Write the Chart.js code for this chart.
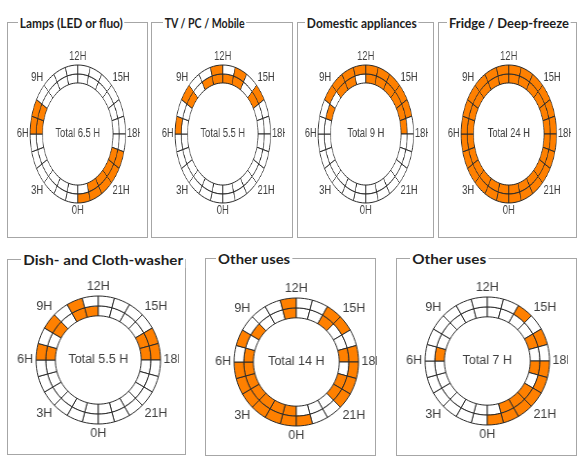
<!DOCTYPE html>
<html><head><meta charset="utf-8">
<script src="https://cdn.jsdelivr.net/npm/chart.js@4.4.1/dist/chart.umd.min.js"></script>
<style>
html,body{margin:0;padding:0;background:#fff;}
body{width:577px;height:462px;position:relative;overflow:hidden;font-family:'Liberation Sans',Arial,sans-serif;}
.box{position:absolute;border:1px solid #a6a6a6;box-sizing:border-box;}
.ttl{position:absolute;background:#fff;font-family:Lato,'Open Sans',sans-serif;font-weight:700;color:#1e1e1e;white-space:nowrap;line-height:16px;transform-origin:0 50%;padding:0 2px;}
canvas{position:absolute;}
</style></head><body>
<script>
// ---- data ----
// one slot per hour, ring 1 (outer) = first half hour, ring 2 (inner) = second half hour
const slotLabels = ['0H','1H','2H','3H','4H','5H','6H','7H','8H','9H','10H','11H','12H','13H','14H','15H','16H','17H','18H','19H','20H','21H','22H','23H'];
const slotWeight = [1,1,1,1,1,1,1,1,1,1,1,1,1,1,1,1,1,1,1,1,1,1,1,1];
const tickHours = [0,3,6,9,12,15,18,21];
const tickLabels = ['0H','3H','6H','9H','12H','15H','18H','21H'];
const titles = ['Lamps (LED or fluo)','TV / PC / Mobile','Domestic appliances','Fridge / Deep-freeze','Dish- and Cloth-washer','Other uses','Other uses'];

//                   0 1 2 3 4 5 6 7 8 9 10  12  14  16  18  20  22
const lampsOuter  = [0,0,0,0,0,0,1,1,0,0,0,0,0,0,0,0,0,0,0,1,1,1,1,1];
const lampsInner  = [0,0,0,0,0,0,1,1,0,0,0,0,0,0,0,0,0,0,0,1,1,1,1,0];
const tvOuter     = [0,0,0,0,0,0,1,0,1,0,0,1,0,1,0,1,0,0,0,0,0,0,0,0];
const tvInner     = [0,0,0,0,0,0,0,0,1,0,1,1,1,1,0,1,0,0,0,0,0,0,0,0];
const applOuter   = [0,0,0,0,0,0,0,0,1,1,1,1,1,1,1,1,1,0,0,0,0,0,0,0];
const applInner   = [0,0,0,0,0,0,0,1,0,1,1,0,1,1,1,1,1,1,0,0,0,0,0,0];
const fridgeOuter = [1,1,1,1,1,1,1,1,1,1,1,1,1,1,1,1,1,1,1,1,1,1,1,1];
const fridgeInner = [1,1,1,1,1,1,1,1,1,1,1,1,1,1,1,1,1,1,1,1,1,1,1,1];
const washOuter   = [0,0,0,0,0,0,1,0,1,0,1,0,0,0,0,0,1,1,0,0,0,0,0,0];
const washInner   = [0,0,0,0,0,0,1,0,1,0,1,1,0,0,0,0,1,1,0,0,0,0,0,0];
const other1Outer = [1,1,1,1,1,1,0,1,0,0,0,1,0,0,1,1,0,1,1,1,1,0,0,1];
const other1Inner = [1,1,1,1,1,1,1,0,1,0,0,1,0,0,1,0,0,1,0,1,1,0,0,0];
const other2Outer = [0,0,0,0,0,0,0,0,0,0,0,0,0,0,1,0,1,0,1,1,1,1,1,1];
const other2Inner = [0,0,0,0,0,0,1,0,0,0,0,0,0,0,0,0,1,0,1,0,1,1,1,0];

const rings = [
  [lampsOuter, lampsInner], [tvOuter, tvInner], [applOuter, applInner], [fridgeOuter, fridgeInner],
  [washOuter, washInner], [other1Outer, other1Inner], [other2Outer, other2Inner]
];

// ---- layout ----
const ON = '#ff8000', OFF = '#ffffff', EDGE = '#2a2a2a', TXT = '#404040';
// half: visible half-width (native px) right of centre; extra: additional room on the left
const TOP = {R:69, cut:74, sx:0.69, half:90, extra:24, H:190, font:'12px "Liberation Sans", Arial, sans-serif', k:1.13, pad:2, tfont:13};
const BOT = {R:64, cut:69, sx:0.97, half:83, extra:14, H:180, font:'12.5px "Liberation Sans", Arial, sans-serif', k:1.03, pad:3, tfont:14};
const layout = [
  {box:[7,22,147,237],  tx:20,  tw:103, cx:77.5,  cy:134, g:TOP},
  {box:[151,22,292,237],tx:165, tw:80,  cx:223,   cy:134, g:TOP},
  {box:[297,22,433,237],tx:307, tw:110, cx:366,   cy:134, g:TOP},
  {box:[438,22,576,237],tx:449, tw:120, cx:508.5, cy:134, g:TOP},
  {box:[7,259,185,454], tx:23,  tw:160, cx:98,    cy:360, g:BOT},
  {box:[205,258,375,455],tx:218,tw:72,  cx:296.5, cy:362, g:BOT},
  {box:[396,258,576,455],tx:412,tw:74,  cx:487.5, cy:361, g:BOT}
];

const ringLabels = {
  id:'ringLabels',
  afterDraw(chart, args, o){
    const ctx = chart.ctx;
    const arc = chart.getDatasetMeta(0).data[0];
    const cx = arc.x, cy = arc.y, R = arc.outerRadius;
    ctx.save();
    ctx.font = o.font;
    ctx.fillStyle = o.color;
    const put = (txt, x, y, al, bl) => {
      ctx.save(); ctx.translate(x, y); ctx.scale(o.k, 1);
      ctx.textAlign = al; ctx.textBaseline = bl; ctx.fillText(txt, 0, 0); ctx.restore();
    };
    tickHours.forEach((h, i) => {
      const a = Math.PI/2 + h*Math.PI/12;
      const c = Math.cos(a), s = Math.sin(a);
      const x = cx + (R + o.pad)*c, y = cy + (R + o.pad)*s;
      put(tickLabels[i], x, y, c > 0.3 ? 'left' : (c < -0.3 ? 'right' : 'center'),
          s > 0.3 ? 'top' : (s < -0.3 ? 'bottom' : 'middle'));
    });
    put(o.center, cx, cy, 'center', 'middle');
    ctx.restore();
  }
};

layout.forEach((p, i) => {
  const [l,t,r,b] = p.box;
  const box = document.createElement('div');
  box.className = 'box';
  Object.assign(box.style, {left:l+'px', top:t+'px', width:(r-l+1)+'px', height:(b-t+1)+'px'});
  document.body.appendChild(box);

  const g = p.g;
  const W = 2*g.half + g.extra;
  const cv = document.createElement('canvas');
  cv.width = W; cv.height = g.H;
  Object.assign(cv.style, {left:(p.cx - (g.half + g.extra)*g.sx)+'px', top:(p.cy - g.H/2)+'px', width:(W*g.sx)+'px', height:g.H+'px'});
  document.body.appendChild(cv);

  const ttl = document.createElement('span');
  ttl.className = 'ttl';
  ttl.textContent = titles[i];
  ttl.style.fontSize = g.tfont + 'px';
  ttl.style.left = (p.tx - 2) + 'px';
  ttl.style.top = (t - 7.5) + 'px';
  document.body.appendChild(ttl);
  const w = ttl.getBoundingClientRect().width - 4;
  ttl.style.transform = 'scaleX(' + (p.tw / w).toFixed(3) + ')';

  const [outer, inner] = rings[i];
  const total = (outer.reduce((a,v)=>a+v,0) + inner.reduce((a,v)=>a+v,0)) / 2;
  new Chart(cv, {
    type:'doughnut',
    data:{labels:slotLabels, datasets:[
      {data:slotWeight, backgroundColor:outer.map(v => v ? ON : OFF), borderColor:EDGE, borderWidth:1},
      {data:slotWeight, backgroundColor:inner.map(v => v ? ON : OFF), borderColor:EDGE, borderWidth:1}
    ]},
    options:{
      responsive:false, animation:false, events:[],
      rotation:180, radius:g.R, cutout:g.cut + '%',
      layout:{padding:{left:g.extra, right:0, top:0, bottom:0}},
      plugins:{legend:{display:false}, tooltip:{enabled:false},
        ringLabels:{font:g.font, color:TXT, k:g.k, pad:g.pad, center:'Total ' + total + ' H'}}
    },
    plugins:[ringLabels]
  });
});
</script>
</body></html>
